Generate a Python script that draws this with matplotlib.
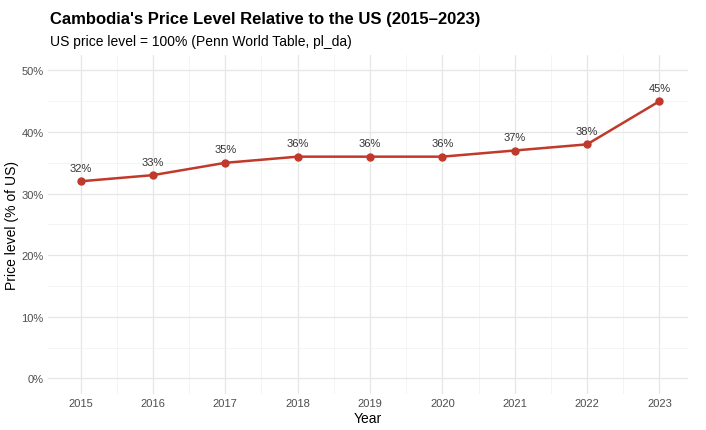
import matplotlib
matplotlib.use("Agg")
import matplotlib.pyplot as plt
from matplotlib.ticker import MultipleLocator, FuncFormatter

years = [2015, 2016, 2017, 2018, 2019, 2020, 2021, 2022, 2023]
price_level = [32, 33, 35, 36, 36, 36, 37, 38, 45]
labels = ["32%", "33%", "35%", "36%", "36%", "36%", "37%", "38%", "45%"]

plt.rcParams['font.family'] = ['Liberation Sans', 'DejaVu Sans']
fig = plt.figure(figsize=(7.06, 4.31), dpi=100)
ax = fig.add_axes([0.068, 0.084, 0.907, 0.786])
col = "#C0392B"
ax.plot(years, price_level, color=col, lw=1.8, marker='o', ms=5, zorder=3)
for x, y, t in zip(years, price_level, labels):
    ax.annotate(t, (x, y), xytext=(0, 6), textcoords='offset points',
                ha='center', va='bottom', fontsize=8, color='#333333')
ax.set_xlim(2014.55, 2023.4)
ax.set_ylim(-2.5, 52.5)
ax.set_xticks(years)
ax.xaxis.set_minor_locator(MultipleLocator(0.5))
ax.yaxis.set_major_locator(MultipleLocator(10))
ax.yaxis.set_minor_locator(MultipleLocator(5))
ax.yaxis.set_major_formatter(FuncFormatter(lambda v, p: f"{int(v)}%"))
ax.grid(which='major', color='#e6e6e6', lw=0.9)
ax.grid(which='minor', color='#f2f2f2', lw=0.6)
ax.set_axisbelow(True)
for s in ax.spines.values():
    s.set_visible(False)
ax.tick_params(which='both', length=0, pad=3)
ax.tick_params(labelsize=8, colors='#4d4d4d')
ax.set_xlabel("Year", fontsize=10, color='black', labelpad=2)
ax.set_ylabel("Price level (% of US)", fontsize=10, color='black', labelpad=2)
fig.text(0.071, 0.955, "Cambodia's Price Level Relative to the US (2015\u20132023)",
         fontsize=12, fontweight='bold', ha='left', va='center')
fig.text(0.071, 0.902, "US price level = 100% (Penn World Table, pl_da)",
         fontsize=10, ha='left', va='center')
fig.savefig("out.png", dpi=100)
